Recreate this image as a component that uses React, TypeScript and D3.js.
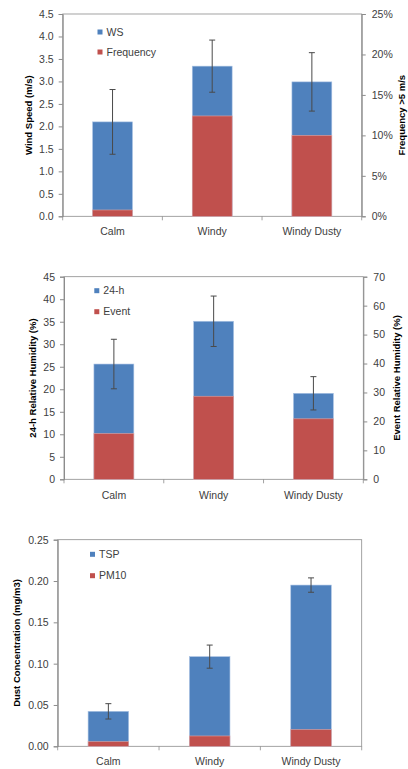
import * as d3 from 'd3';
import { useEffect, useRef } from 'react';

const categories = ['Calm', 'Windy', 'Windy Dusty'];

// panel 1: wind speed
const windSpeed = [2.1, 3.34, 2.99];
const windSpeedErr = [0.72, 0.58, 0.65];
const freqOver5 = [0.78, 12.4, 10.0];
const wsTicks = [0, 0.5, 1, 1.5, 2, 2.5, 3, 3.5, 4, 4.5];
const freqTicks = [0, 5, 10, 15, 20, 25];

// panel 2: relative humidity
const rh24h = [25.6, 35.1, 19.1];
const rh24hErr = [5.5, 5.6, 3.7];
const rhEvent = [15.8, 28.7, 20.9];
const rh24Ticks = [0, 5, 10, 15, 20, 25, 30, 35, 40, 45];
const rhEventTicks = [0, 10, 20, 30, 40, 50, 60, 70];

// panel 3: dust concentration
const tsp = [0.0423, 0.1085, 0.1951];
const tspErr = [0.0093, 0.014, 0.0087];
const pm10 = [0.0056, 0.0125, 0.0202];
const dustTicks = [0, 0.05, 0.1, 0.15, 0.2, 0.25];

const BLUE = '#4f81bd';
const RED = '#c0504d';
const FONT = '"Liberation Sans", Arial, sans-serif';

type Panel = {
  box: { left: number; right: number; top: number; bottom: number };
  blue: number[];
  blueErr: number[];
  red: number[];
  leftTicks: number[];
  leftFmt: (v: number) => string;
  rightTicks?: number[];
  rightFmt?: (v: number) => string;
  leftLabel: string;
  leftLabelX: number;
  rightLabel?: string;
  rightLabelX?: number;
  legend: string[];
  legendX: number;
  legendY: number[];
  xLabelY: number;
};

const panels: Panel[] = [
  {
    box: { left: 62.7, right: 361.7, top: 14, bottom: 216.3 },
    blue: windSpeed,
    blueErr: windSpeedErr,
    red: freqOver5,
    leftTicks: wsTicks,
    leftFmt: d3.format('.1f'),
    rightTicks: freqTicks,
    rightFmt: v => `${v}%`,
    leftLabel: 'Wind Speed (m/s)',
    leftLabelX: 29,
    rightLabel: 'Frequency >5 m/s',
    rightLabelX: 402,
    legend: ['WS', 'Frequency'],
    legendX: 97.5,
    legendY: [32, 52],
    xLabelY: 231
  },
  {
    box: { left: 64, right: 363.3, top: 276.7, bottom: 479.3 },
    blue: rh24h,
    blueErr: rh24hErr,
    red: rhEvent,
    leftTicks: rh24Ticks,
    leftFmt: d3.format('d'),
    rightTicks: rhEventTicks,
    rightFmt: d3.format('d'),
    leftLabel: '24-h Relative Humidity (%)',
    leftLabelX: 33,
    rightLabel: 'Event Relative Humidity (%)',
    rightLabelX: 397,
    legend: ['24-h', 'Event'],
    legendX: 94.3,
    legendY: [290.7, 311.7],
    xLabelY: 495
  },
  {
    box: { left: 57.7, right: 361.7, top: 539.7, bottom: 746.3 },
    blue: tsp,
    blueErr: tspErr,
    red: pm10,
    leftTicks: dustTicks,
    leftFmt: d3.format('.2f'),
    leftLabel: 'Dust Concentration (mg/m3)',
    leftLabelX: 17,
    legend: ['TSP', 'PM10'],
    legendX: 90,
    legendY: [554.3, 575.7],
    xLabelY: 761.7
  }
];

const drawPanel = (svg: d3.Selection<SVGSVGElement, unknown, null, undefined>, p: Panel) => {
  const { left, right, top, bottom } = p.box;
  const g = svg.append('g');

  const x = d3.scaleBand<string>().domain(categories).range([left, right]);
  const yL = d3
    .scaleLinear()
    .domain([0, p.leftTicks[p.leftTicks.length - 1]])
    .range([bottom, top]);
  const yR = p.rightTicks
    ? d3
        .scaleLinear()
        .domain([0, p.rightTicks[p.rightTicks.length - 1]])
        .range([bottom, top])
    : yL;

  const barW = x.bandwidth() * 0.4;

  // plot frame
  g.append('rect')
    .attr('x', left)
    .attr('y', top)
    .attr('width', right - left)
    .attr('height', bottom - top)
    .attr('fill', 'none')
    .attr('stroke', '#8c8c8c')
    .attr('stroke-width', 0.8);

  // blue bars (primary axis)
  g.selectAll('.blue')
    .data(p.blue)
    .join('rect')
    .attr('x', (_, i) => x(categories[i])! + x.bandwidth() / 2 - barW / 2)
    .attr('y', d => yL(d))
    .attr('width', barW)
    .attr('height', d => bottom - yL(d))
    .attr('fill', BLUE)
    .attr('stroke', '#a9c2e3')
    .attr('stroke-width', 0.6);

  // red bars (secondary axis, drawn in front)
  g.selectAll('.red')
    .data(p.red)
    .join('rect')
    .attr('x', (_, i) => x(categories[i])! + x.bandwidth() / 2 - barW / 2)
    .attr('y', d => yR(d))
    .attr('width', barW)
    .attr('height', d => bottom - yR(d))
    .attr('fill', RED)
    .attr('stroke', '#e0a6a4')
    .attr('stroke-width', 0.6);

  // error bars
  p.blue.forEach((v, i) => {
    const cx = x(categories[i])! + x.bandwidth() / 2;
    const hi = yL(v + p.blueErr[i]);
    const lo = yL(v - p.blueErr[i]);
    g.append('line').attr('x1', cx).attr('x2', cx).attr('y1', hi).attr('y2', lo).attr('stroke', '#4a4a4a').attr('stroke-width', 1);
    [hi, lo].forEach(yy =>
      g.append('line').attr('x1', cx - 3).attr('x2', cx + 3).attr('y1', yy).attr('y2', yy).attr('stroke', '#4a4a4a').attr('stroke-width', 1)
    );
  });

  // left axis
  g.append('g')
    .attr('transform', `translate(${left},0)`)
    .call(d3.axisLeft(yL).tickValues(p.leftTicks).tickFormat(d => p.leftFmt(+d)).tickSize(4).tickPadding(5))
    .call(ax => ax.select('.domain').attr('stroke', '#8c8c8c'))
    .call(ax => ax.selectAll('.tick line').attr('stroke', '#8c8c8c'))
    .call(ax => ax.selectAll('text').attr('fill', '#404040').attr('font-size', 10.5).attr('font-family', FONT));

  // right axis
  if (p.rightTicks && p.rightFmt) {
    const fmt = p.rightFmt;
    g.append('g')
      .attr('transform', `translate(${right},0)`)
      .call(d3.axisRight(yR).tickValues(p.rightTicks).tickFormat(d => fmt(+d)).tickSize(4).tickPadding(6))
      .call(ax => ax.select('.domain').attr('stroke', '#8c8c8c'))
      .call(ax => ax.selectAll('.tick line').attr('stroke', '#8c8c8c'))
      .call(ax => ax.selectAll('text').attr('fill', '#404040').attr('font-size', 10.5).attr('font-family', FONT));
  }

  // category divider ticks on x axis
  const bounds = categories.map(c => x(c)!).concat([right]);
  g.selectAll('.xtick')
    .data(bounds)
    .join('line')
    .attr('x1', d => d)
    .attr('x2', d => d)
    .attr('y1', bottom)
    .attr('y2', bottom + 4)
    .attr('stroke', '#8c8c8c')
    .attr('stroke-width', 0.8);

  g.selectAll('.xlabel')
    .data(categories)
    .join('text')
    .attr('x', d => x(d)! + x.bandwidth() / 2)
    .attr('y', p.xLabelY)
    .attr('dy', '0.35em')
    .attr('text-anchor', 'middle')
    .attr('font-size', 10.5)
    .attr('font-family', FONT)
    .attr('fill', '#404040')
    .text(d => d);

  // axis titles
  const midY = (top + bottom) / 2;
  g.append('text')
    .attr('transform', `translate(${p.leftLabelX},${midY}) rotate(-90)`)
    .attr('text-anchor', 'middle')
    .attr('dy', '0.35em')
    .attr('font-size', 9.5)
    .attr('font-weight', 'bold')
    .attr('font-family', FONT)
    .attr('fill', '#000')
    .text(p.leftLabel);

  if (p.rightLabel && p.rightLabelX) {
    g.append('text')
      .attr('transform', `translate(${p.rightLabelX},${midY}) rotate(-90)`)
      .attr('text-anchor', 'middle')
      .attr('dy', '0.35em')
      .attr('font-size', 9.5)
      .attr('font-weight', 'bold')
      .attr('font-family', FONT)
      .attr('fill', '#000')
      .text(p.rightLabel);
  }

  // legend
  [BLUE, RED].forEach((c, i) => {
    const ly = p.legendY[i];
    g.append('rect').attr('x', p.legendX).attr('y', ly - 2.5).attr('width', 5).attr('height', 5).attr('fill', c);
    g.append('text')
      .attr('x', p.legendX + 9)
      .attr('y', ly)
      .attr('dy', '0.35em')
      .attr('font-size', 10.5)
      .attr('font-family', FONT)
      .attr('fill', '#404040')
      .text(p.legend[i]);
  });
};

const App = () => {
  const svgRef = useRef<SVGSVGElement>(null);

  useEffect(() => {
    if (!svgRef.current) return;
    const svg = d3.select(svgRef.current);
    svg.selectAll('*').remove();
    panels.forEach(p => drawPanel(svg, p));
  }, []);

  return <svg ref={svgRef} width={408} height={769} style={{ position: 'absolute', left: 0, top: 0, background: '#fff' }} />;
};

export default App;
